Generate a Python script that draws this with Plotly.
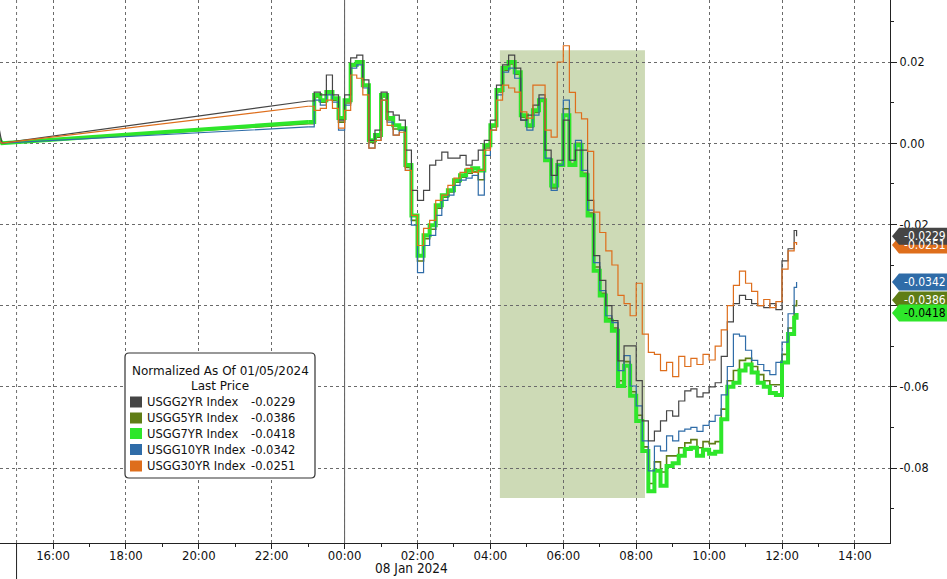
import plotly.graph_objects as go

# ---------------- data ----------------
# hours relative to 00:00, 08 Jan 2024 (Friday 05 Jan close shown at the left edge)
fri_hours = [-9.62, -9.52, -9.40]
session_hours = [-1.0 + k / 6 for k in range(81)] + [12.40]

tick_hours = [-8, -6, -4, -2, 0, 2, 4, 6, 8, 10, 12, 14]
tick_labels = ["16:00", "18:00", "20:00", "22:00", "00:00", "02:00",
               "04:00", "06:00", "08:00", "10:00", "12:00", "14:00"]
minor_hours = [-9, -7, -5, -3, -1, 1, 3, 5, 7, 9, 11, 13]

y_ticks = [0.02, 0.0, -0.02, -0.04, -0.06, -0.08]
y_tick_labels = ["0.02", "0.00", "-0.02", "-0.04", "-0.06", "-0.08"]

series_names = ["USGG2YR Index", "USGG5YR Index", "USGG7YR Index",
                "USGG10YR Index", "USGG30YR Index"]

usgg2_fri = [0.0050, 0.0055, 0.0]
usgg2 = [0.0104, 0.0126, 0.0119, 0.0168, 0.0119, 0.0057, 0.0119, 0.0210, 0.0217, 0.0156,
         0.0007, 0.0032, 0.0126, 0.0077, 0.0069, 0.0057, -0.0017, -0.0116, -0.0141, -0.0116,
         -0.0054, -0.0042, -0.0022, -0.0037, -0.0037, -0.0030, -0.0054, -0.0042, -0.0017, 0.0007,
         0.0057, 0.0143, 0.0193, 0.0217, 0.0185, 0.0057, 0.0069, 0.0094, 0.0119, -0.0017,
         -0.0079, -0.0042, 0.0057, -0.0042, -0.0017, -0.0017, -0.0141, -0.0277, -0.0338, -0.0400,
         -0.0437, -0.0536, -0.0499, -0.0499, -0.0585, -0.0684, -0.0733, -0.0709, -0.0684, -0.0659,
         -0.0672, -0.0635, -0.0610, -0.0605, -0.0625, -0.0615, -0.0600, -0.0590, -0.0525, -0.0440,
         -0.0395, -0.0375, -0.0385, -0.0395, -0.0400, -0.0405, -0.0395, -0.0410, -0.0290, -0.0260,
         -0.0215, -0.0229]

usgg5_fri = [0.0012, 0.0016, 0.0]
usgg5 = [0.0048, 0.0114, 0.0101, 0.0121, 0.0106, 0.0052, 0.0099, 0.0190, 0.0196, 0.0140,
         0.0002, 0.0015, 0.0114, 0.0057, 0.0035, 0.0032, -0.0060, -0.0190, -0.0290, -0.0235,
         -0.0212, -0.0160, -0.0133, -0.0120, -0.0096, -0.0084, -0.0074, -0.0070, -0.0090, -0.0012,
         0.0040, 0.0126, 0.0180, 0.0195, 0.0170, 0.0064, 0.0040, 0.0076, 0.0108, -0.0040,
         -0.0110, -0.0055, 0.0085, -0.0050, 0.0000, -0.0074, -0.0172, -0.0305, -0.0370, -0.0432,
         -0.0455, -0.0585, -0.0538, -0.0612, -0.0670, -0.0748, -0.0838, -0.0785, -0.0810, -0.0770,
         -0.0770, -0.0750, -0.0738, -0.0730, -0.0750, -0.0735, -0.0740, -0.0735, -0.0655, -0.0585,
         -0.0560, -0.0535, -0.0530, -0.0550, -0.0570, -0.0585, -0.0595, -0.0595, -0.0520, -0.0455,
         -0.0400, -0.0386]

usgg7_fri = [0.0015, 0.0018, 0.0]
usgg7 = [0.0052, 0.0119, 0.0106, 0.0126, 0.0111, 0.0062, 0.0106, 0.0193, 0.0200, 0.0143,
         0.0007, 0.0020, 0.0119, 0.0062, 0.0044, 0.0037, -0.0054, -0.0178, -0.0277, -0.0227,
         -0.0202, -0.0153, -0.0128, -0.0116, -0.0091, -0.0079, -0.0067, -0.0062, -0.0067, -0.0005,
         0.0044, 0.0131, 0.0185, 0.0200, 0.0175, 0.0069, 0.0044, 0.0081, 0.0106, -0.0042,
         -0.0104, -0.0054, 0.0069, -0.0054, -0.0005, -0.0079, -0.0178, -0.0314, -0.0375, -0.0437,
         -0.0462, -0.0598, -0.0548, -0.0622, -0.0684, -0.0758, -0.0857, -0.0807, -0.0844, -0.0795,
         -0.0788, -0.0770, -0.0753, -0.0750, -0.0770, -0.0755, -0.0765, -0.0760, -0.0680, -0.0600,
         -0.0590, -0.0560, -0.0545, -0.0565, -0.0590, -0.0600, -0.0615, -0.0620, -0.0540, -0.0470,
         -0.0430, -0.0418]

usgg10_fri = [0.0010, 0.0012, 0.0]
usgg10 = [0.0040, 0.0106, 0.0094, 0.0119, 0.0101, 0.0032, 0.0094, 0.0185, 0.0193, 0.0136,
          -0.0012, 0.0007, 0.0106, 0.0052, 0.0020, 0.0032, -0.0067, -0.0202, -0.0319, -0.0252,
          -0.0227, -0.0178, -0.0141, -0.0128, -0.0104, -0.0091, -0.0086, -0.0079, -0.0128, -0.0030,
          0.0032, 0.0119, 0.0175, 0.0185, 0.0160, 0.0057, 0.0032, 0.0069, 0.0111, -0.0037,
          -0.0116, -0.0054, 0.0106, -0.0042, 0.0007, -0.0067, -0.0165, -0.0294, -0.0363, -0.0425,
          -0.0442, -0.0560, -0.0523, -0.0598, -0.0647, -0.0733, -0.0807, -0.0746, -0.0758, -0.0721,
          -0.0733, -0.0709, -0.0704, -0.0700, -0.0710, -0.0695, -0.0685, -0.0670, -0.0620, -0.0550,
          -0.0470, -0.0475, -0.0510, -0.0535, -0.0545, -0.0560, -0.0570, -0.0540, -0.0490, -0.0420,
          -0.0355, -0.0342]

usgg30_fri = [0.0008, 0.0010, 0.0]
usgg30 = [0.0091, 0.0081, 0.0086, 0.0106, 0.0086, 0.0037, 0.0081, 0.0168, 0.0160, 0.0119,
          -0.0012, 0.0007, 0.0106, 0.0044, 0.0020, 0.0027, -0.0067, -0.0178, -0.0252, -0.0210,
          -0.0190, -0.0141, -0.0128, -0.0104, -0.0086, -0.0072, -0.0062, -0.0072, -0.0067, -0.0017,
          0.0032, 0.0106, 0.0143, 0.0136, 0.0126, 0.0077, 0.0062, 0.0143, 0.0143, 0.0032,
          0.0015, 0.0200, 0.0240, 0.0125, 0.0075, 0.0060, -0.0020, -0.0170, -0.0220, -0.0265,
          -0.0300, -0.0375, -0.0395, -0.0425, -0.0345, -0.0470, -0.0515, -0.0520, -0.0560, -0.0540,
          -0.0575, -0.0525, -0.0550, -0.0530, -0.0545, -0.0520, -0.0534, -0.0500, -0.0460, -0.0400,
          -0.0350, -0.0315, -0.0345, -0.0365, -0.0400, -0.0385, -0.0405, -0.0390, -0.0310, -0.0265,
          -0.0245, -0.0251]

# highlighted window (hours / values)
shade_x = [4.26, 8.24]
shade_y = [-0.0874, 0.0229]

# ---------------- styling ----------------
colors = {
    "USGG2YR Index": "#454545",
    "USGG5YR Index": "#5f7d16",
    "USGG7YR Index": "#2ee62a",
    "USGG10YR Index": "#2f6ca8",
    "USGG30YR Index": "#de6e1c",
}
widths = {
    "USGG2YR Index": 1.2,
    "USGG5YR Index": 1.6,
    "USGG7YR Index": 4.0,
    "USGG10YR Index": 1.2,
    "USGG30YR Index": 1.2,
}
data = {
    "USGG2YR Index": (usgg2_fri, usgg2),
    "USGG5YR Index": (usgg5_fri, usgg5),
    "USGG7YR Index": (usgg7_fri, usgg7),
    "USGG10YR Index": (usgg10_fri, usgg10),
    "USGG30YR Index": (usgg30_fri, usgg30),
}
draw_order = ["USGG5YR Index", "USGG7YR Index", "USGG10YR Index",
              "USGG2YR Index", "USGG30YR Index"]

W, H = 947, 579
ML, MR, MT, MB = 0, 57, 0, 36
PW, PH = W - ML - MR, H - MT - MB
X_RANGE = [-9.454, 14.963]
Y_RANGE = [-0.09847, 0.03527]

AXIS_FONT = "DejaVu Sans Condensed, Arial Narrow, sans-serif"
LEG_FONT = "DejaVu Sans, Verdana, sans-serif"


def px(xp):
    return (xp - ML) / PW


def py(yp):
    return (MT + PH - yp) / PH


def vy(v):
    return (v - Y_RANGE[0]) / (Y_RANGE[1] - Y_RANGE[0])


fig = go.Figure()

for name in draw_order:
    fri, sess = data[name]
    c, w = colors[name], widths[name]
    # Friday close + weekend connector
    fig.add_trace(go.Scatter(x=fri_hours + [session_hours[0]], y=fri + [sess[0]],
                             mode="lines", line=dict(color=c, width=w),
                             showlegend=False, hoverinfo="skip"))
    fig.add_trace(go.Scatter(x=session_hours, y=sess, mode="lines",
                             line=dict(color=c, width=w, shape="hv"),
                             name=name, showlegend=False))

shapes = []
# shaded window
shapes.append(dict(type="rect", xref="x", yref="y", x0=shade_x[0], x1=shade_x[1],
                   y0=shade_y[0], y1=shade_y[1], fillcolor="#cddab6",
                   line=dict(width=0), layer="below"))
# day separator at 00:00
shapes.append(dict(type="line", xref="x", yref="paper", x0=0, x1=0, y0=0, y1=1,
                   line=dict(color="#555555", width=1), layer="below"))
# separator at 15:00 (dotted above axis, solid below)
shapes.append(dict(type="line", xref="x", yref="paper", x0=-9, x1=-9, y0=0, y1=1,
                   line=dict(color="#707070", width=1, dash="dot"), layer="below"))
shapes.append(dict(type="line", xref="x", yref="paper", x0=-9, x1=-9, y0=-MB / PH, y1=0,
                   line=dict(color="#222222", width=1), layer="above"))

annotations = []

# last-value tags on the right
tag_order = ["USGG30YR Index", "USGG2YR Index", "USGG5YR Index",
             "USGG7YR Index", "USGG10YR Index"]
hh = 8.5 / PH
for name in tag_order:
    last = data[name][1][-1]
    yc = vy(last)
    x_tip, x_body, x_end = px(892), px(899), px(960)
    path = (f"M {x_tip},{yc} L {x_body},{yc + hh} L {x_end},{yc + hh} "
            f"L {x_end},{yc - hh} L {x_body},{yc - hh} Z")
    shapes.append(dict(type="path", xref="paper", yref="paper", path=path,
                       fillcolor=colors[name], line=dict(width=0), layer="above"))
    txt_col = "#000000" if name == "USGG7YR Index" else "#ffffff"
    annotations.append(dict(xref="paper", yref="paper", x=px(902), y=yc,
                            xanchor="left", yanchor="middle", showarrow=False,
                            text=f"{last:.4f}",
                            font=dict(family=AXIS_FONT, size=12, color=txt_col)))

# custom legend box
bx0, bx1, by0, by1 = 125, 315, 353, 478
r = 4
lx0, lx1, ly0, ly1 = px(bx0), px(bx1), py(by1), py(by0)
rx, ry = r / PW, r / PH
legend_path = (f"M {lx0 + rx},{ly1} L {lx1 - rx},{ly1} Q {lx1},{ly1} {lx1},{ly1 - ry} "
               f"L {lx1},{ly0 + ry} Q {lx1},{ly0} {lx1 - rx},{ly0} "
               f"L {lx0 + rx},{ly0} Q {lx0},{ly0} {lx0},{ly0 + ry} "
               f"L {lx0},{ly1 - ry} Q {lx0},{ly1} {lx0 + rx},{ly1} Z")
shapes.append(dict(type="path", xref="paper", yref="paper", path=legend_path,
                   fillcolor="#ffffff", line=dict(color="#333333", width=1.2),
                   layer="above"))
annotations.append(dict(xref="paper", yref="paper", x=px(220), y=py(371),
                        xanchor="center", yanchor="middle", showarrow=False,
                        text="Normalized As Of 01/05/2024",
                        font=dict(family=LEG_FONT, size=12, color="#111111")))
annotations.append(dict(xref="paper", yref="paper", x=px(220), y=py(386),
                        xanchor="center", yanchor="middle", showarrow=False,
                        text="Last Price",
                        font=dict(family=LEG_FONT, size=12, color="#111111")))
row_y = [402, 418, 433.5, 449.5, 466]
for name, ry_ in zip(series_names, row_y):
    last = data[name][1][-1]
    shapes.append(dict(type="rect", xref="paper", yref="paper",
                       x0=px(130), x1=px(142), y0=py(ry_ + 5.5), y1=py(ry_ - 5.5),
                       fillcolor=colors[name], line=dict(width=0), layer="above"))
    annotations.append(dict(xref="paper", yref="paper", x=px(145), y=py(ry_),
                            xanchor="left", yanchor="middle", showarrow=False,
                            text=name,
                            font=dict(family=LEG_FONT, size=11.5, color="#111111")))
    annotations.append(dict(xref="paper", yref="paper", x=px(297), y=py(ry_),
                            xanchor="right", yanchor="middle", showarrow=False,
                            text=f"{last:.4f}",
                            font=dict(family=LEG_FONT, size=11.5, color="#111111")))

# date label under the time axis
annotations.append(dict(xref="paper", yref="paper", x=px(411), y=py(568),
                        xanchor="center", yanchor="middle", showarrow=False,
                        text="08 Jan 2024",
                        font=dict(family=AXIS_FONT, size=13.5, color="#111111")))

fig.update_layout(
    width=W, height=H,
    margin=dict(l=ML, r=MR, t=MT, b=MB),
    paper_bgcolor="#ffffff", plot_bgcolor="#ffffff",
    showlegend=False,
    shapes=shapes, annotations=annotations,
    xaxis=dict(range=X_RANGE, tickmode="array", tickvals=tick_hours, ticktext=tick_labels,
               showgrid=True, gridcolor="#6a6a6a", gridwidth=1, griddash="dot",
               zeroline=False, showline=True, linecolor="#222222", linewidth=1,
               ticks="outside", ticklen=5, tickcolor="#222222",
               ticklabelstandoff=-5,
               minor=dict(tickvals=minor_hours, ticks="outside", ticklen=3,
                          tickcolor="#222222", showgrid=False),
               tickfont=dict(family=AXIS_FONT, size=13, color="#111111"),
               automargin=False, fixedrange=True),
    yaxis=dict(range=Y_RANGE, side="right", tickmode="array", tickvals=y_ticks,
               ticktext=y_tick_labels,
               showgrid=True, gridcolor="#6a6a6a", gridwidth=1, griddash="dot",
               zeroline=False, showline=True, linecolor="#222222", linewidth=1,
               ticks="outside", ticklen=6, tickcolor="#222222",
               minor=dict(dtick=0.01, tick0=0, ticks="outside", ticklen=3,
                          tickcolor="#222222", showgrid=False),
               tickfont=dict(family=AXIS_FONT, size=12.5, color="#111111"),
               automargin=False, fixedrange=True),
)

fig.write_html("out.html", config={"displayModeBar": False},
               post_script="document.body.style.margin='0px';")
